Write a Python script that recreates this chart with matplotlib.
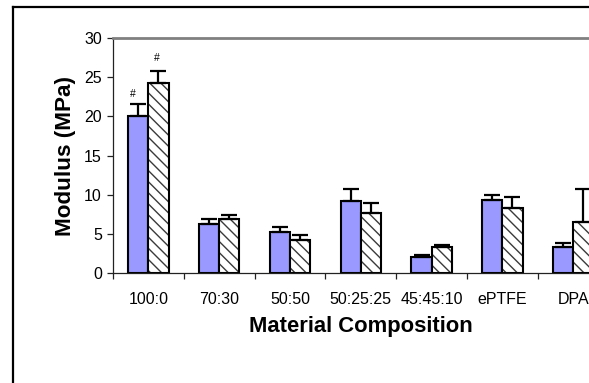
import matplotlib
matplotlib.use("Agg")
import matplotlib.pyplot as plt
from matplotlib.lines import Line2D
import numpy as np

plt.rcParams['font.family'] = ['Liberation Sans', 'DejaVu Sans']
plt.rcParams['hatch.linewidth'] = 1.0

categories = ["100:0", "70:30", "50:50", "50:25:25", "45:45:10", "ePTFE", "DPA"]
series1 = [20.0, 6.25, 5.25, 9.15, 2.08, 9.28, 3.32]
series1_err = [1.6, 0.6, 0.62, 1.55, 0.26, 0.68, 0.47]
series2 = [24.25, 6.86, 4.2, 7.66, 3.32, 8.34, 6.55]
series2_err = [1.55, 0.59, 0.65, 1.24, 0.22, 1.33, 4.15]
yticks = [0, 5, 10, 15, 20, 25, 30]

W, H = 589, 383
fig = plt.figure(figsize=(W / 100, H / 100), dpi=100)
fig.patch.set_facecolor('white')

# outer frame (cropped chart area border)
fig.add_artist(Line2D([12.5 / W, 12.5 / W], [0, 1 - 6.5 / H], transform=fig.transFigure,
                      color='black', lw=1.6, solid_capstyle='projecting'))
fig.add_artist(Line2D([12.5 / W, 1.0], [1 - 6.5 / H, 1 - 6.5 / H], transform=fig.transFigure,
                      color='black', lw=1.6, solid_capstyle='projecting'))

ax_left, ax_bottom = 113 / W, 1 - 273 / H
ax_w, ax_h = 495.6 / W, 235 / H
ax = fig.add_axes([ax_left, ax_bottom, ax_w, ax_h])

x = np.arange(len(categories))
w = 0.285
ax.bar(x - w / 2, series1, w, color='#9999FF', edgecolor='black', linewidth=1.5, zorder=2)
# hatched fill (grey hatch lines) then black outline on top
ax.bar(x + w / 2, series2, w, color='white', edgecolor='#3a3a3a', linewidth=0,
       hatch='\\\\\\', zorder=2)
ax.bar(x + w / 2, series2, w, fill=False, edgecolor='black', linewidth=1.5, zorder=2.5)
ax.errorbar(x - w / 2, series1, yerr=[np.zeros(len(x)), series1_err], fmt='none',
            ecolor='black', elinewidth=1.6, capsize=5.8, capthick=1.6, zorder=3)
ax.errorbar(x + w / 2, series2, yerr=[np.zeros(len(x)), series2_err], fmt='none',
            ecolor='black', elinewidth=1.6, capsize=5.8, capthick=1.6, zorder=3)

# significance markers
ax.text(x[0] - w / 2 - 0.08, series1[0] + series1_err[0] + 1.2, '#', ha='center', va='center',
        fontsize=7.5)
ax.text(x[0] + w / 2 - 0.03, series2[0] + series2_err[0] + 1.6, '#', ha='center', va='center',
        fontsize=7.5)

ax.set_xlim(-0.5, len(categories) - 0.5)
ax.set_ylim(0, 30)
ax.set_yticks(yticks)
ax.set_xticks(x)
ax.set_xticklabels(categories)
ax.set_xticks(np.arange(len(categories) + 1) - 0.5, minor=True)

ax.tick_params(axis='y', direction='out', length=4.5, width=0.9, color='#222222',
               labelsize=11.5, pad=3.5)
ax.tick_params(axis='x', which='major', length=0, labelsize=11.5, pad=14)
ax.tick_params(axis='x', which='minor', direction='out', length=4.5, width=0.9, color='#222222')

for s in ['left', 'bottom']:
    ax.spines[s].set_color('#222222')
    ax.spines[s].set_linewidth(0.9)
ax.spines['top'].set_color('#808080')
ax.spines['top'].set_linewidth(2.0)
ax.spines['right'].set_color('#808080')
ax.spines['right'].set_linewidth(2.0)

ax.set_xlabel('Material Composition', fontsize=15.8, fontweight='bold', labelpad=6)
ax.set_ylabel('Modulus (MPa)', fontsize=16.2, fontweight='bold', labelpad=6)

fig.savefig('out.png', dpi=100, facecolor='white')
